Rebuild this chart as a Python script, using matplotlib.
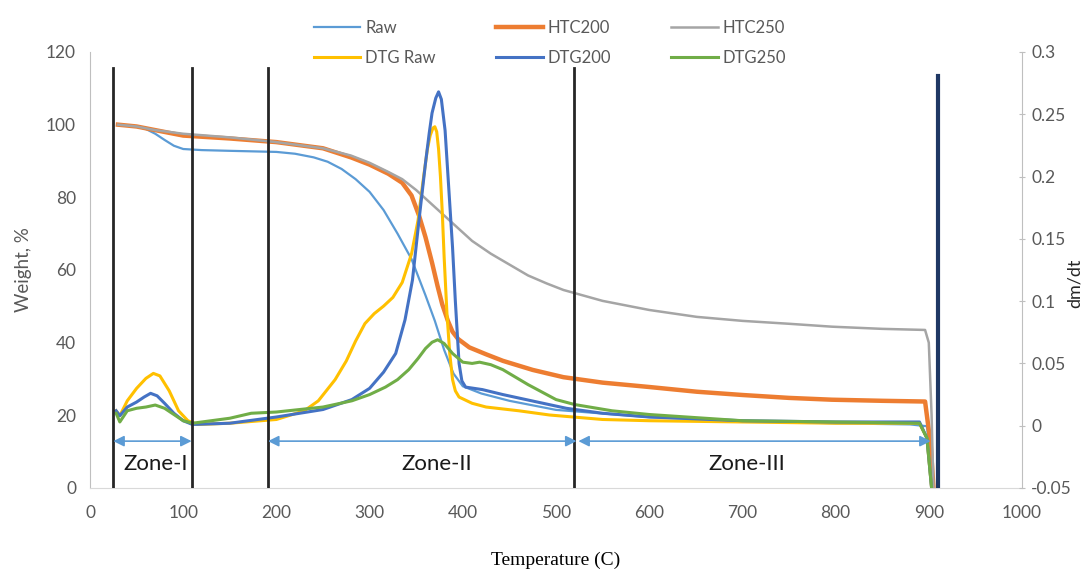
import matplotlib
matplotlib.use("Agg")
from matplotlib import pyplot as plt

# weight loss curves (left axis)
raw_t = [30, 50, 60, 70, 80, 90, 100, 120, 150, 200, 220, 240, 255, 270, 285, 300, 315, 330, 345, 360, 370,
         380, 390, 400, 420, 450, 500, 550, 600, 700, 800, 880, 898, 902, 905]
raw_w = [100, 99.5, 98.8, 97.5, 95.8, 94.2, 93.3, 93, 92.8, 92.5, 92, 91, 89.8, 87.8, 85, 81.5, 76.5, 70, 63,
         53, 46, 38, 31.5, 28, 26, 24, 21.5, 20.5, 19.5, 18.5, 17.8, 17.5, 17, 8, 0]

htc200_t = [30, 50, 70, 100, 150, 200, 250, 280, 300, 320, 335, 345, 353, 360, 367, 373, 378, 384, 389, 395,
            407, 425, 443, 475, 508, 550, 600, 651, 700, 750, 796, 850, 896, 902, 905]
htc200_w = [100, 99.5, 98.5, 97, 96.2, 95.2, 93.5, 91, 89, 86.5, 84, 80.5, 75, 69, 62, 55.5, 50.5, 46, 43, 41,
            38.7, 36.8, 35, 32.5, 30.5, 29, 27.8, 26.5, 25.6, 24.8, 24.3, 24, 23.8, 12, 0]

htc250_t = [30, 50, 70, 100, 150, 200, 250, 280, 300, 320, 335, 350, 365, 380, 395, 410, 430, 450, 470, 490,
            508, 550, 600, 651, 700, 750, 796, 850, 896, 900, 903, 905]
htc250_w = [100, 99.5, 98.5, 97.5, 96.5, 95.2, 93.5, 91.5, 89.5, 87, 85, 82, 78.5, 75, 71.5, 68, 64.5, 61.5,
            58.5, 56.3, 54.5, 51.5, 49, 47.1, 46, 45.2, 44.4, 43.8, 43.5, 40, 20, 0]

# DTG curves (right axis)
dtgraw_t = [28, 32, 40, 50, 60, 68, 75, 85, 95, 105, 115, 150, 200, 230, 245, 263, 275, 285, 295, 305, 315,
            325, 335, 345, 352, 358, 362, 365, 368, 370, 372, 374, 376, 378, 380, 383, 386, 389, 392, 396, 410,
            425, 460, 493, 550, 600, 700, 800, 890, 898, 903]
dtgraw_d = [0.012, 0.008, 0.02, 0.03, 0.038, 0.042, 0.04, 0.028, 0.012, 0.004, 0.001, 0.002, 0.005, 0.012,
            0.02, 0.037, 0.052, 0.068, 0.082, 0.09, 0.096, 0.103, 0.115, 0.138, 0.165, 0.2, 0.222, 0.233, 0.239,
            0.24, 0.236, 0.222, 0.2, 0.171, 0.135, 0.09, 0.058, 0.037, 0.028, 0.023, 0.018, 0.015, 0.012, 0.0086,
            0.005, 0.004, 0.003, 0.002, 0.002, -0.01, -0.05]

dtg200_t = [28, 32, 40, 50, 58, 65, 72, 80, 90, 100, 110, 150, 200, 250, 281, 300, 315, 328, 338, 346, 353,
            360, 364, 367, 371, 374, 377, 381, 385, 389, 392, 396, 399, 403, 421, 443, 480, 511, 550, 600, 700,
            800, 890, 898, 903]
dtg200_d = [0.012, 0.008, 0.015, 0.019, 0.023, 0.026, 0.024, 0.018, 0.01, 0.004, 0.001, 0.002, 0.007, 0.013,
            0.021, 0.03, 0.043, 0.058, 0.085, 0.117, 0.165, 0.211, 0.235, 0.251, 0.263, 0.268, 0.262, 0.237, 0.19,
            0.143, 0.1, 0.05, 0.036, 0.031, 0.029, 0.025, 0.019, 0.014, 0.01, 0.007, 0.004, 0.003, 0.003, -0.01,
            -0.05]

dtg250_t = [28, 32, 40, 50, 60, 70, 80, 90, 100, 110, 150, 173, 200, 250, 281, 300, 317, 330, 342, 352, 360,
            367, 373, 380, 389, 400, 410, 418, 430, 443, 470, 500, 520, 560, 600, 700, 800, 890, 898, 903]
dtg250_d = [0.01, 0.003, 0.012, 0.014, 0.015, 0.0166, 0.014, 0.009, 0.004, 0.002, 0.006, 0.01, 0.011, 0.015,
            0.02, 0.025, 0.031, 0.037, 0.045, 0.054, 0.062, 0.067, 0.069, 0.066, 0.058, 0.051, 0.05, 0.051,
            0.049, 0.045, 0.033, 0.021, 0.017, 0.012, 0.009, 0.004, 0.003, 0.002, -0.01, -0.05]

# zone boundaries and labels
zone_lines = [25, 109, 191, 519]
end_line = 910
zones = [("Zone-I", 25, 109, 70), ("Zone-II", 191, 522, 372), ("Zone-III", 524, 902, 705)]

plt.rcParams['font.family'] = ['Lato', 'DejaVu Sans']
grey = '#595959'

fig = plt.figure(figsize=(10.91, 5.77), dpi=100)
ax = fig.add_axes([90 / 1091, 89 / 577, 932 / 1091, 436 / 577])
ax2 = ax.twinx()

l1, = ax.plot(raw_t, raw_w, color='#5B9BD5', lw=1.6, label='Raw')
l2, = ax.plot(htc200_t, htc200_w, color='#ED7D31', lw=3.2, label='HTC200')
l3, = ax.plot(htc250_t, htc250_w, color='#A5A5A5', lw=1.8, label='HTC250')

l4, = ax2.plot(dtgraw_t, dtgraw_d, color='#FFC000', lw=2.2, label='DTG Raw')
l5, = ax2.plot(dtg200_t, dtg200_d, color='#4472C4', lw=2.2, label='DTG200')
l6, = ax2.plot(dtg250_t, dtg250_d, color='#70AD47', lw=2.2, label='DTG250')

ax.set_xlim(0, 1000)
ax.set_ylim(0, 120)
ax2.set_ylim(-0.05, 0.3)
ax.set_xticks(range(0, 1001, 100))
ax.set_yticks(range(0, 121, 20))
ax2.set_yticks([-0.05, 0, 0.05, 0.1, 0.15, 0.2, 0.25, 0.3])
ax2.set_yticklabels(['-0.05', '0', '0.05', '0.1', '0.15', '0.2', '0.25', '0.3'])

for a in (ax, ax2):
    a.spines['top'].set_visible(False)
    a.tick_params(labelsize=12.5, labelcolor=grey, color='#BFBFBF')
ax.spines['left'].set_color('#BFBFBF')
ax.spines['bottom'].set_color('#D9D9D9')
ax.spines['right'].set_visible(False)
ax2.spines['left'].set_visible(False)
ax2.spines['bottom'].set_visible(False)
ax2.spines['right'].set_color('#BFBFBF')
ax.tick_params(axis='y', length=0, pad=10)
ax.tick_params(axis='x', length=0, pad=12)
ax2.tick_params(axis='y', length=5, direction='inout', pad=4)

ax.set_ylabel('Weight, %', fontsize=13.5, color=grey, labelpad=10)
ax.set_xlabel('Temperature (C)', fontsize=14, family='Liberation Serif', color='black', labelpad=22)
fig.text(1075 / 1091, 1 - 283 / 577, 'dm/dt', rotation=90, fontsize=13, color='#262626',
         ha='center', va='center')

# zone separators, drawn above the curves
for x in zone_lines:
    ax2.plot([x, x], [0, 115.6], color='#262626', lw=2, transform=ax.transData, zorder=5)
ax2.plot([end_line, end_line], [0, 113.5], color='#1F3864', lw=3, transform=ax.transData, zorder=5)

for name, x0, x1, xt in zones:
    ax2.annotate('', xy=(x1, 12.9), xytext=(x0, 12.9), xycoords=ax.transData, textcoords=ax.transData,
                 arrowprops=dict(arrowstyle='<|-|>', color='#5B9BD5', lw=1.2, mutation_scale=16,
                                 shrinkA=0, shrinkB=0), zorder=6)
    ax2.text(xt, 6.5, name, transform=ax.transData, fontsize=16, color='#1a1a1a',
             ha='center', va='center', zorder=6)

fig.legend([l1, l4, l2, l5, l3, l6], ['Raw', 'DTG Raw', 'HTC200', 'DTG200', 'HTC250', 'DTG250'],
           ncol=3, loc='center', bbox_to_anchor=(550 / 1091, 1 - 43 / 577), frameon=False,
           fontsize=12, handlelength=2.8, columnspacing=3.6, labelspacing=0.8, handletextpad=0.3,
           labelcolor=grey)

fig.savefig('out.png', dpi=100)
